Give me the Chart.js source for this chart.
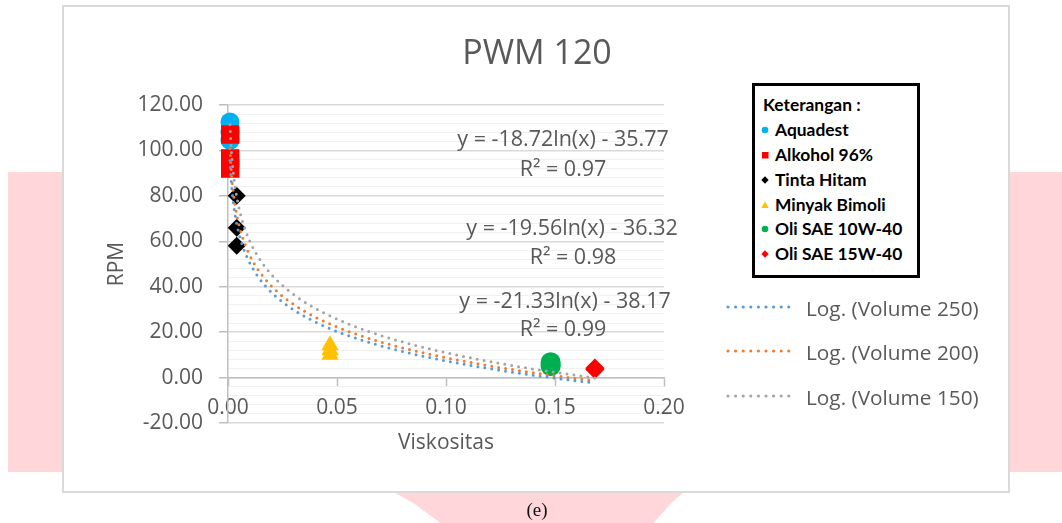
<!DOCTYPE html>
<html><head><meta charset="utf-8">
<script src="https://cdn.jsdelivr.net/npm/chart.js@4/dist/chart.umd.min.js"></script>
<style>
html,body{margin:0;padding:0;width:1062px;height:523px;overflow:hidden;background:#fff;font-family:"Open Sans",sans-serif;}
.pink{position:absolute;background:#FFD7DB;}
#frame{position:absolute;left:62px;top:5px;width:948px;height:488px;box-sizing:border-box;border:2px solid #DADADA;background:#fff;}
#c{position:absolute;left:0;top:0;}
.t{position:absolute;color:#595959;white-space:nowrap;transform:translate(-50%,-50%);line-height:1.2;}
#ket{position:absolute;left:752px;top:83px;width:168px;height:195px;box-sizing:border-box;border:3px solid #000;background:#fff;}
.k{position:absolute;font-family:Lato,sans-serif;font-weight:bold;font-size:17.4px;color:#000;white-space:nowrap;transform:translateY(-50%);line-height:1.2;}
.lg{position:absolute;color:#595959;font-size:20.8px;white-space:nowrap;transform:translateY(-50%);line-height:1.2;}
#cap{position:absolute;left:537px;top:510px;transform:translate(-50%,-50%);font-family:"Liberation Serif",serif;font-size:19px;color:#111;}
</style></head>
<body>
<div class="pink" style="left:8px;top:172px;width:56px;height:300px;"></div>
<div class="pink" style="left:1008px;top:172px;width:54px;height:300px;"></div>
<div class="pink" style="left:390px;top:490px;width:296px;height:33px;clip-path:polygon(0 0,100% 0,95% 40%,89% 100%,17% 100%,8% 40%);"></div>
<div id="frame"></div>
<canvas id="c" width="1062" height="523"></canvas>
<div id="overlay"></div>
<div id="cap">(e)</div>
<script>
// ---- data ----
const fluidNames = ['Aquadest','Alkohol 96%','Tinta Hitam','Minyak Bimoli','Oli SAE 10W-40','Oli SAE 15W-40'];
const viscosity = [0.0009, 0.0010, 0.0040, 0.0468, 0.1480, 0.1683];
const rpmVolume250 = [104.5, 92.0, 58.0, 10.0, 5.0, 3.5];
const rpmVolume200 = [108.0, 96.5, 66.0, 12.0, 5.8, 3.8];
const rpmVolume150 = [112.5, 107.0, 80.0, 14.2, 6.8, 4.2];
const trendNames = ['Log. (Volume 250)','Log. (Volume 200)','Log. (Volume 150)'];
const trendSlope = [-18.72, -19.56, -21.33];
const trendIntercept = [-35.77, -36.32, -38.17];
const trendR2 = [0.97, 0.98, 0.99];
const xTickValues = [0, 0.05, 0.10, 0.15, 0.20];
const yMajorTicks = [-20, 0, 20, 40, 60, 80, 100, 120];
const chartTitle = 'PWM 120';
const xTitle = 'Viskositas';
const yTitle = 'RPM';
const legendTitle = 'Keterangan :';

// ---- styles ----
const fluidColors = ['#00B0F0','#FF0000','#000000','#FFC000','#00B050','#FF0000'];
const fluidShapes = ['circle','rect','rectRot','triangle','circle','rectRot'];
const fluidRadius = [9.5, 13, 9, 10, 10, 9.5];
const trendColors = ['#5B9BD5','#ED7D31','#A5A5A5'];
const GRID_MAJOR = '#D9D9D9', GRID_MINOR = '#F0F0F0', AXIS = '#BFBFBF', TXT = '#595959';

Chart.defaults.font.family = '"Open Sans", sans-serif';
Chart.defaults.color = TXT;

const volumeSeries = [rpmVolume250, rpmVolume200, rpmVolume150];
const datasets = [];
const xMin = Math.min(...viscosity), xMax = Math.max(...viscosity);
trendNames.forEach((name, k) => {
  const pts = [];
  const N = 300;
  for (let i = 0; i <= N; i++) {
    const x = Math.exp(Math.log(xMin) + (Math.log(xMax) - Math.log(xMin)) * i / N);
    pts.push({x, y: trendSlope[k] * Math.log(x) + trendIntercept[k]});
  }
  datasets.push({label: name, data: pts, showLine: true, pointRadius: 0, borderColor: trendColors[k],
    borderWidth: 3, borderDash: [0, 7], borderCapStyle: 'round', fill: false, tension: 0, order: 0, clip: false});
});
fluidNames.forEach((name, i) => {
  datasets.push({label: name,
    data: volumeSeries.map(s => ({x: viscosity[i], y: s[i]})),
    pointStyle: fluidShapes[i], pointRadius: fluidRadius[i], pointBackgroundColor: fluidColors[i],
    pointBorderColor: fluidColors[i], pointBorderWidth: 0, showLine: false, order: 10 - i, clip: false});
});

const isMajor = v => yMajorTicks.some(m => Math.abs(m - v) < 1e-6);

new Chart(document.getElementById('c'), {
  type: 'scatter',
  data: {datasets},
  options: {
    responsive: false, animation: false, events: [],
    layout: {padding: {left: 100, right: 398, top: 105, bottom: 100}},
    plugins: {legend: {display: false}, tooltip: {enabled: false}, title: {display: false}},
    scales: {
      x: {
        type: 'linear', min: 0, max: 0.2, position: {y: 0},
        afterFit: s => { s.height = 80; },
        afterBuildTicks: s => { s.ticks = xTickValues.map(v => ({value: v})); },
        ticks: {padding: 10, color: TXT, font: {size: 21}, maxRotation: 0, autoSkip: false,
          callback: v => Number(v).toFixed(2)},
        grid: {drawOnChartArea: false, drawTicks: true, tickLength: 8, tickColor: AXIS, tickWidth: 1.5},
        border: {display: true, color: AXIS, width: 1.5},
        title: {display: true, text: xTitle, color: TXT, font: {size: 21}, padding: {top: 0, bottom: 2}}
      },
      y: {
        type: 'linear', min: -20, max: 120,
        afterFit: s => { s.width = 128; },
        ticks: {stepSize: 4, autoSkip: false, padding: 16, color: TXT, font: {size: 21},
          callback: v => isMajor(v) ? Number(v).toFixed(2) : ''},
        grid: {
          color: c => (c.tick && isMajor(c.tick.value)) ? GRID_MAJOR : GRID_MINOR,
          lineWidth: c => (c.tick && isMajor(c.tick.value)) ? 1.5 : 1,
          tickLength: 9,
          tickColor: c => (c.tick && isMajor(c.tick.value)) ? AXIS : 'rgba(0,0,0,0)'
        },
        border: {display: true, color: AXIS, width: 1.5},
        title: {display: true, text: yTitle, color: TXT, font: {size: 21}, padding: {top: 4, bottom: 0}}
      }
    }
  }
});

// ---- overlay texts ----
const ov = document.getElementById('overlay');
function addText(cls, txt, x, y, style) {
  const d = document.createElement('div');
  d.className = cls; d.textContent = txt;
  d.style.left = x + 'px'; d.style.top = y + 'px';
  if (style) Object.assign(d.style, style);
  ov.appendChild(d); return d;
}
addText('t', chartTitle, 537, 51, {fontSize: '34px'});
// trendline equations (top: Volume 250, middle: 200, bottom: 150)
const eqPos = [[563, 138, 563, 168], [572, 227, 573, 256], [565, 300, 563, 328]];
trendNames.forEach((n, k) => {
  const a = trendSlope[k].toFixed(2), b = Math.abs(trendIntercept[k]).toFixed(2);
  const p = eqPos[k];
  addText('t', 'y = ' + a + 'ln(x) - ' + b, p[0], p[1], {fontSize: '21.5px'});
  addText('t', 'R\u00B2 = ' + trendR2[k].toFixed(2), p[2], p[3], {fontSize: '21.5px'});
});
// series legend (trendlines)
const legY = [307, 351, 396];
trendNames.forEach((n, k) => {
  const svg = document.createElementNS('http://www.w3.org/2000/svg', 'svg');
  svg.setAttribute('width', '70'); svg.setAttribute('height', '10');
  svg.style.position = 'absolute'; svg.style.left = '724px'; svg.style.top = (legY[k] - 5) + 'px';
  svg.innerHTML = '<line x1="4" y1="5" x2="67" y2="5" stroke="' + trendColors[k] + '" stroke-width="3.2" stroke-linecap="round" stroke-dasharray="0 7.6"/>';
  ov.appendChild(svg);
  addText('lg', n, 806, legY[k] + 1);
});
// Keterangan box
const ket = document.createElement('div'); ket.id = 'ket'; ov.appendChild(ket);
const ketRowsY = [130, 155, 180, 205, 229, 254];
addText('k', legendTitle, 763, 105);
fluidNames.forEach((n, i) => {
  const y = ketRowsY[i];
  const s = document.createElementNS('http://www.w3.org/2000/svg', 'svg');
  s.setAttribute('width', '10'); s.setAttribute('height', '10');
  s.style.position = 'absolute'; s.style.left = '760px'; s.style.top = (y - 5) + 'px';
  const c = fluidColors[i];
  let shape;
  if (fluidShapes[i] === 'circle') shape = '<circle cx="5" cy="5" r="3.3" fill="' + c + '"/>';
  else if (fluidShapes[i] === 'rect') shape = '<rect x="2" y="2" width="6.5" height="6.5" fill="' + c + '"/>';
  else if (fluidShapes[i] === 'rectRot') shape = '<polygon points="5,1.3 8.7,5 5,8.7 1.3,5" fill="' + c + '"/>';
  else shape = '<polygon points="5,1.5 8.7,8 1.3,8" fill="' + c + '"/>';
  s.innerHTML = shape;
  ov.appendChild(s);
  addText('k', n, 775, y);
});
</script>
</body></html>
